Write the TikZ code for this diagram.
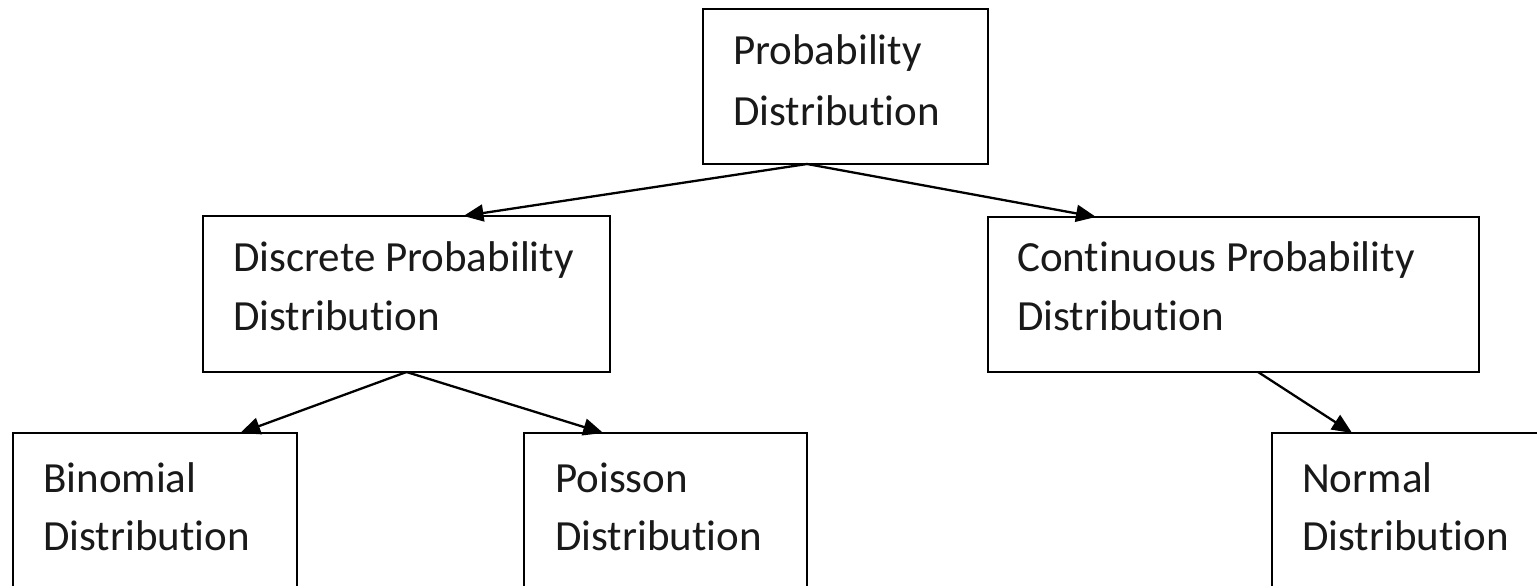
\documentclass[tikz,border=0pt]{standalone}
\usepackage{fontspec}
\setmainfont{Carlito}[Ligatures={NoCommon}]
\usetikzlibrary{arrows.meta,calc}
\tikzset{
  box/.style={draw=black, line width=2.4pt, rectangle, inner sep=0pt, outer sep=0pt, fill=white},
  txt/.style={anchor=base west, inner sep=0pt, font=\fontsize{43}{60}\selectfont, text=black!90},
  arr/.style={line width=2.3pt, -{Triangle[length=20pt,width=17pt]}}
}
\begin{document}
\begin{tikzpicture}[x=1pt,y=-1pt]
\useasboundingbox (0,0) rectangle (1537,586);
\fill[white] (0,0) rectangle (1537,586);
% boxes
\node[box, minimum width=285pt, minimum height=155pt] (top) at (845.5,86.5) {};
\node[box, minimum width=407pt, minimum height=156pt] (disc) at (406.5,294) {};
\node[box, minimum width=491pt, minimum height=155pt] (cont) at (1233.5,294.5) {};
\node[box, minimum width=284pt, minimum height=190pt] (bin) at (155,528) {};
\node[box, minimum width=283pt, minimum height=190pt] (poi) at (665.5,528) {};
\node[box, minimum width=300pt, minimum height=190pt] (nor) at (1422,528) {};
% texts
\node[txt] (topa) at (733,65) {Probability};
\node[txt] (topb) at (733,125) {Distribution};
\node[txt] (disca) at (233,271) {Discrete Probability};
\node[txt] (discb) at (233,330) {Distribution};
\node[txt] (conta) at (1017,271) {Continuous Probability};
\node[txt] (contb) at (1017,330) {Distribution};
\node[txt] (bina) at (43,492) {Binomial};
\node[txt] (binb) at (43,550) {Distribution};
\node[txt] (poia) at (555,492) {Poisson};
\node[txt] (poib) at (555,550) {Distribution};
\node[txt] (nora) at (1302,492) {Normal};
\node[txt] (norb) at (1302,550) {Distribution};
% arrows
\draw[arr] ($(top.south west)!0.365!(top.south east)$) -- ($(disc.north west)!0.64!(disc.north east)$);
\draw[arr] ($(top.south west)!0.365!(top.south east)$) -- ($(cont.north west)!0.22!(cont.north east)$);
\draw[arr] (disc.south) -- ($(bin.north west)!0.80!(bin.north east)$);
\draw[arr] (disc.south) -- ($(poi.north west)!0.28!(poi.north east)$);
\draw[arr] ($(cont.south west)!0.55!(cont.south east)$) -- ($(nor.north west)!0.267!(nor.north east)$);
\end{tikzpicture}
\end{document}
